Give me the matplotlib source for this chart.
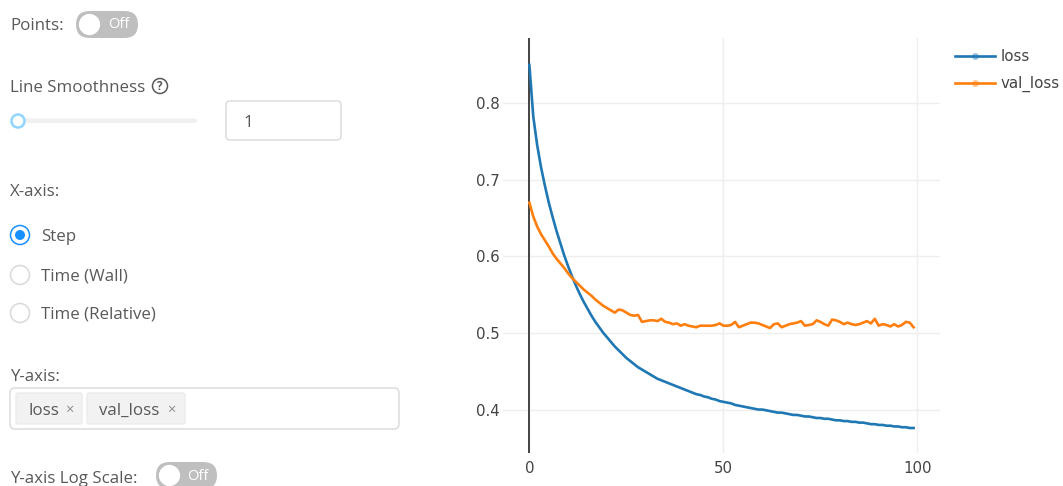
import matplotlib
matplotlib.use("Agg")
import matplotlib.pyplot as plt
from matplotlib.patches import FancyBboxPatch, Circle
from matplotlib.lines import Line2D
import numpy as np

# data (one value per step)
steps = np.arange(100)
loss = [0.849, 0.782, 0.745, 0.716, 0.692, 0.670, 0.651, 0.633, 0.617, 0.601,
        0.587, 0.574, 0.562, 0.551, 0.541, 0.532, 0.523, 0.515, 0.508, 0.501,
        0.495, 0.489, 0.483, 0.478, 0.473, 0.468, 0.464, 0.460, 0.456, 0.453,
        0.450, 0.447, 0.444, 0.441, 0.439, 0.437, 0.435, 0.433, 0.431, 0.429,
        0.427, 0.425, 0.423, 0.421, 0.420, 0.418, 0.417, 0.415, 0.414, 0.412,
        0.411, 0.410, 0.409, 0.407, 0.406, 0.405, 0.404, 0.403, 0.402, 0.401,
        0.401, 0.400, 0.399, 0.398, 0.397, 0.397, 0.396, 0.395, 0.394, 0.394,
        0.393, 0.392, 0.392, 0.391, 0.390, 0.390, 0.389, 0.389, 0.388, 0.387,
        0.387, 0.386, 0.386, 0.385, 0.385, 0.384, 0.384, 0.383, 0.382, 0.382,
        0.381, 0.381, 0.380, 0.380, 0.379, 0.379, 0.378, 0.378, 0.377, 0.377]
val_loss = [0.670, 0.652, 0.639, 0.629, 0.621, 0.613, 0.604, 0.597, 0.591, 0.585,
            0.578, 0.572, 0.567, 0.562, 0.557, 0.553, 0.549, 0.544, 0.540, 0.536,
            0.533, 0.530, 0.527, 0.531, 0.530, 0.527, 0.524, 0.523, 0.524, 0.515,
            0.516, 0.517, 0.517, 0.516, 0.519, 0.515, 0.514, 0.512, 0.513, 0.510,
            0.512, 0.510, 0.509, 0.508, 0.510, 0.510, 0.510, 0.510, 0.511, 0.513,
            0.510, 0.510, 0.511, 0.515, 0.508, 0.510, 0.512, 0.514, 0.514, 0.513,
            0.511, 0.509, 0.507, 0.512, 0.513, 0.508, 0.510, 0.512, 0.513, 0.514,
            0.516, 0.510, 0.511, 0.512, 0.517, 0.515, 0.512, 0.510, 0.518, 0.517,
            0.515, 0.512, 0.514, 0.512, 0.511, 0.512, 0.514, 0.516, 0.513, 0.519,
            0.510, 0.512, 0.511, 0.509, 0.512, 0.509, 0.511, 0.515, 0.514, 0.508]
series_names = ["loss", "val_loss"]
series_colors = ["#1f77b4", "#ff7f0e"]
x_ticks = [0, 50, 100]
y_ticks = [0.4, 0.5, 0.6, 0.7, 0.8]

W, H = 1063, 486
plt.rcParams["font.family"] = ["Open Sans", "DejaVu Sans"]
fig = plt.figure(figsize=(W / 100, H / 100), dpi=100)
fig.patch.set_facecolor("white")

# ---- left panel (pixel coords, y down) ----
ui = fig.add_axes([0, 0, 1, 1])
ui.set_xlim(0, W)
ui.set_ylim(H, 0)
ui.axis("off")

TXT = "#595959"
FS = 12.2

def label(x, y, s, **kw):
    kw.setdefault("color", TXT)
    kw.setdefault("fontsize", FS)
    ui.text(x, y + 1.5, s, va="center", ha=kw.pop("ha", "left"), **kw)

def rbox(x0, y0, x1, y1, r, fc, ec="none", lw=1):
    ui.add_patch(FancyBboxPatch((x0, y0), x1 - x0, y1 - y0,
                                boxstyle=f"round,pad=0,rounding_size={r}",
                                fc=fc, ec=ec, lw=lw))

def switch(x0, y0, x1, y1):
    h = y1 - y0
    rbox(x0, y0, x1, y1, h / 2, "#bfbfbf")
    ui.add_patch(Circle((x0 + h / 2, y0 + h / 2), h / 2 - 2.5, fc="white", ec="#b0b0b0", lw=0.4))
    label(x0 + h + (x1 - x0 - h) / 2 - 2, y0 + h / 2 - 1, "Off", color="white", fontsize=10.5, ha="center")

label(10, 25, "Points:")
switch(76, 11, 138, 38)

label(10, 86, "Line Smoothness")
ui.add_patch(Circle((160, 86), 7.5, fc="none", ec=TXT, lw=1.1))
label(160, 84.5, "?", fontsize=8.5, ha="center", fontweight="bold")

rbox(17, 118.5, 197, 123, 2, "#f0f0f0")
ui.add_patch(Circle((18, 121), 6.5, fc="white", ec="#91d5ff", lw=1.8))
rbox(226, 101, 341, 140, 4, "white", "#d9d9d9")
label(243, 121, "1")

label(10, 190, "X-axis:")
radios = [("Step", 235, True), ("Time (Wall)", 275, False), ("Time (Relative)", 313, False)]
for name, yy, on in radios:
    ui.add_patch(Circle((20, yy), 9.5, fc="white", ec="#1890ff" if on else "#d9d9d9", lw=1.1))
    if on:
        ui.add_patch(Circle((20, yy), 5, fc="#1890ff", ec="none"))
    label(41, yy, name)

label(10, 375, "Y-axis:")
rbox(10, 388, 399, 429, 5, "white", "#d9d9d9")
for x0, x1, name, xx in [(16, 82, "loss", 69), (87, 185, "val_loss", 171)]:
    rbox(x0, 393, x1, 424, 2, "#f2f2f2", "#ececec")
    label(x0 + 12, 409, name)
    label(xx, 409, "\u00d7", color="#8c8c8c", fontsize=10.5, ha="center")

label(10, 477, "Y-axis Log Scale:")
switch(156, 462, 217, 489)

# ---- chart ----
CF = "DejaVu Sans"
ax = fig.add_axes([503 / W, (H - 453) / H, 437 / W, 415 / H])
ax.set_facecolor("white")
for name, vals, c in zip(series_names, [loss, val_loss], series_colors):
    ax.plot(steps, vals, color=c, lw=1.9, label=name, zorder=3)
ax.axvline(0, color="#444444", lw=1.4, zorder=2)
ax.set_xlim(-6.8, 105.8)
ax.set_ylim(0.3445, 0.8841)
ax.set_xticks(x_ticks)
ax.set_yticks(y_ticks)
ax.set_yticklabels([f"{v:.1f}" for v in y_ticks])
ax.grid(True, color="#eeeeee", lw=1, zorder=0)
ax.tick_params(length=0, labelsize=10.8, labelcolor="#444444")
ax.tick_params(axis="x", pad=6)
ax.tick_params(axis="y", pad=2)
for lab in ax.get_xticklabels() + ax.get_yticklabels():
    lab.set_family(CF)
for sp in ax.spines.values():
    sp.set_visible(False)

handles = []
for c in series_colors:
    light = matplotlib.colors.to_rgba(c, 0.45)
    handles.append(Line2D([], [], color=c, lw=1.9, marker="o", ms=5, mfc=light, mec="none"))
leg = ax.legend(handles, series_names, loc="upper left", bbox_to_anchor=(955 / W, 1 - 49 / H),
                bbox_transform=fig.transFigure, frameon=False,
                prop={"family": CF, "size": 10.8},
                labelcolor="#444444", handlelength=2.65, handletextpad=0.4,
                labelspacing=0.8, numpoints=1, borderaxespad=0, borderpad=0)

fig.savefig("out.png", dpi=100)
